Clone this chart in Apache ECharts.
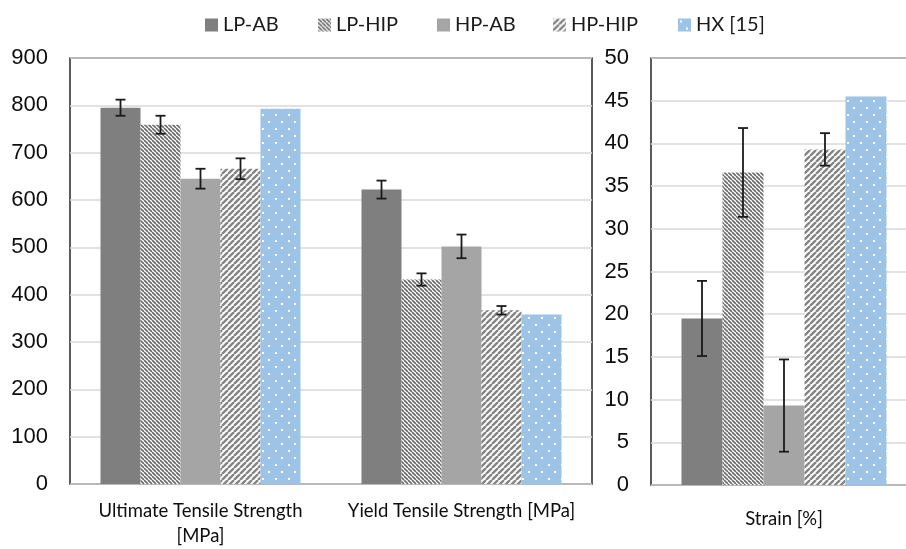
<!DOCTYPE html>
<html>
<head>
<meta charset="utf-8">
<script src="https://cdn.jsdelivr.net/npm/echarts@6/dist/echarts.min.js"></script>
<style>
  html, body { margin: 0; padding: 0; background: #ffffff; overflow: hidden; }
  /* the strain panel's frame runs past the right edge of the view */
  #chart { width: 917px; height: 549px; }
</style>
</head>
<body>
<div id="chart"></div>
<script>
// Material groups shown in both panels
const groups = ['LP-AB', 'LP-HIP', 'HP-AB', 'HP-HIP', 'HX [15]'];

// Strength panel categories and values (MPa)
const strengthCategories = ['Ultimate Tensile Strength\n[MPa]', 'Yield Tensile Strength [MPa]'];
const ultimate = [795, 759, 645, 666, 793];
const ultimateErr = [17, 19, 21, 22, null];
const yieldStrength = [622, 432, 502, 367, 358];
const yieldErr = [19, 13, 25, 9, null];

// Strain panel (%)
const strainCategories = ['Strain [%]'];
const strain = [19.5, 36.6, 9.3, 39.3, 45.5];
const strainErr = [4.4, 5.2, 5.4, 1.9, null];

// Axis ticks
const strengthTicks = { min: 0, max: 900, interval: 100 };
const strainTicks = { min: 0, max: 50, interval: 5 };

// ---- fill patterns ----
function stripeTile(size, color, width, dir) {
  const c = document.createElement('canvas');
  c.width = size; c.height = size;
  const g = c.getContext('2d');
  g.fillStyle = '#ffffff';
  g.fillRect(0, 0, size, size);
  g.strokeStyle = color;
  g.lineWidth = width;
  g.beginPath();
  for (let k = -1; k <= 1; k++) {
    if (dir === 'back') {           // "\" stripes
      g.moveTo(k * size, 0);
      g.lineTo(k * size + size, size);
    } else {                         // "/" stripes
      g.moveTo(k * size, size);
      g.lineTo(k * size + size, 0);
    }
  }
  g.stroke();
  return c;
}
function dotTile() {
  const w = 13, h = 14;
  const c = document.createElement('canvas');
  c.width = w; c.height = h;
  const g = c.getContext('2d');
  g.fillStyle = '#9dc3e6';
  g.fillRect(0, 0, w, h);
  g.fillStyle = '#ffffff';
  g.fillRect(2, 2, 2, 2);
  g.fillRect(8, 9, 2, 2);
  return c;
}

const fills = [
  '#7f7f7f',
  { image: stripeTile(4, '#6a6a6a', 1.6, 'back'), repeat: 'repeat' },
  '#a5a5a5',
  { image: stripeTile(6, '#858585', 2.4, 'fwd'), repeat: 'repeat' },
  { image: dotTile(), repeat: 'repeat' }
];

const BAR_L = 40;
const BAR_R = 41;

function errorItems(valueLists, errLists) {
  const out = [];
  valueLists.forEach((vals, cat) => {
    vals.forEach((v, i) => {
      const e = errLists[cat][i];
      if (e != null) out.push([cat, v, e, i]);
    });
  });
  return out;
}

function errorRenderer(barW) {
  return function (params, api) {
    const cat = api.value(0), v = api.value(1), e = api.value(2), idx = api.value(3);
    const hi = api.coord([cat, v + e]);
    const lo = api.coord([cat, v - e]);
    const x = hi[0] + (idx - 2) * barW;
    const cap = 5;
    const style = { stroke: '#1a1a1a', lineWidth: 1.8 };
    return {
      type: 'group',
      children: [
        { type: 'line', shape: { x1: x, y1: hi[1], x2: x, y2: lo[1] }, style },
        { type: 'line', shape: { x1: x - cap, y1: hi[1], x2: x + cap, y2: hi[1] }, style },
        { type: 'line', shape: { x1: x - cap, y1: lo[1], x2: x + cap, y2: lo[1] }, style }
      ]
    };
  };
}

const series = [];
groups.forEach((name, i) => {
  series.push({
    name, type: 'bar', xAxisIndex: 0, yAxisIndex: 0,
    data: [ultimate[i], yieldStrength[i]],
    barWidth: BAR_L, barGap: '0%',
    itemStyle: { color: fills[i] },
    emphasis: { disabled: true }
  });
});
groups.forEach((name, i) => {
  series.push({
    name, type: 'bar', xAxisIndex: 1, yAxisIndex: 1,
    data: [strain[i]],
    barWidth: BAR_R, barGap: '0%',
    itemStyle: { color: fills[i] },
    emphasis: { disabled: true }
  });
});
series.push({
  type: 'custom', xAxisIndex: 0, yAxisIndex: 0, z: 10,
  renderItem: errorRenderer(BAR_L),
  data: errorItems([ultimate, yieldStrength], [ultimateErr, yieldErr])
});
series.push({
  type: 'custom', xAxisIndex: 1, yAxisIndex: 1, z: 10,
  renderItem: errorRenderer(BAR_R),
  data: errorItems([strain], [strainErr])
});

const legendLeft = [200, 313, 432, 548, 673];
const legends = groups.map((name, i) => ({
  data: [name],
  left: legendLeft[i], top: 10,
  icon: 'rect', itemWidth: 13, itemHeight: 13, itemGap: 0,
  selectedMode: false,
  textStyle: { fontFamily: 'Lato', fontSize: 20, color: '#1a1a1a', padding: [0, 0, 0, 0] }
}));

const gridStyle = { show: true, borderColor: '#262626', borderWidth: 1.5, backgroundColor: '#ffffff' };

const option = {
  animation: false,
  backgroundColor: '#ffffff',
  legend: legends,
  grid: [
    Object.assign({ left: 70, top: 58, width: 522, bottom: 64 }, gridStyle),
    Object.assign({ left: 651, top: 58, right: 0, bottom: 64 }, gridStyle)
  ],
  xAxis: [
    {
      type: 'category', gridIndex: 0, data: strengthCategories,
      axisLine: { show: false }, axisTick: { show: false },
      axisLabel: { interval: 0, fontFamily: 'Lato', fontSize: 18.5, color: '#0d0d0d', margin: 15, lineHeight: 25 }
    },
    {
      type: 'category', gridIndex: 1, data: strainCategories,
      axisLine: { show: false }, axisTick: { show: false },
      axisLabel: { interval: 0, fontFamily: 'Lato', fontSize: 18.5, color: '#0d0d0d', margin: 25 }
    }
  ],
  yAxis: [
    Object.assign({
      type: 'value', gridIndex: 0,
      axisLine: { show: false }, axisTick: { show: false },
      splitLine: { lineStyle: { color: '#d9d9d9', width: 1.5 } },
      axisLabel: { fontFamily: 'Liberation Sans', fontSize: 22, color: '#0d0d0d', margin: 22 }
    }, strengthTicks),
    Object.assign({
      type: 'value', gridIndex: 1,
      axisLine: { show: false }, axisTick: { show: false },
      splitLine: { lineStyle: { color: '#d9d9d9', width: 1.5 } },
      axisLabel: { fontFamily: 'Liberation Sans', fontSize: 22, color: '#0d0d0d', margin: 22 }
    }, strainTicks)
  ],
  series
};

const chart = echarts.init(document.getElementById('chart'), null, { renderer: 'canvas' });
chart.setOption(option);
</script>
</body>
</html>
